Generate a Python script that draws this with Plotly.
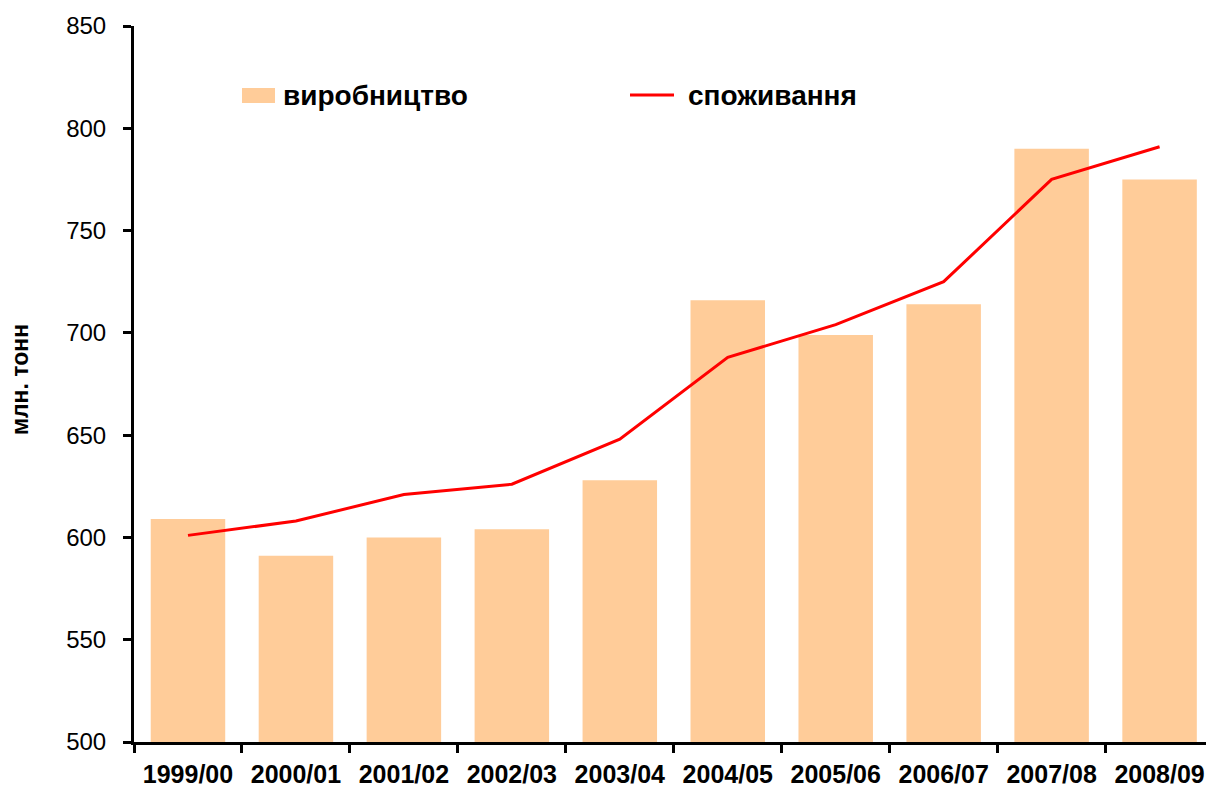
import plotly.graph_objects as go

seasons = ["1999/00", "2000/01", "2001/02", "2002/03", "2003/04",
           "2004/05", "2005/06", "2006/07", "2007/08", "2008/09"]
production = [609, 591, 600, 604, 628, 716, 699, 714, 790, 775]
consumption = [601, 608, 621, 626, 648, 688, 704, 725, 775, 791]

BAR_COLOR = "#FFCC99"
LINE_COLOR = "#FF0000"
FONT = "Liberation Sans, Arial, sans-serif"

# plot area in pixels: x 134..1206, y 26..742
L, T, W, H = 134, 26, 1072, 716


def px_x(p):
    return (p - L) / W


def px_y(p):
    return (T + H - p) / H


fig = go.Figure()
fig.add_trace(go.Bar(x=seasons, y=production, name="виробництво",
                     marker=dict(color=BAR_COLOR, line=dict(width=0))))
fig.add_trace(go.Scatter(x=seasons, y=consumption, name="споживання", mode="lines",
                         line=dict(color=LINE_COLOR, width=3)))

# legend drawn by hand, to get the wide swatches
fig.add_shape(type="rect", xref="paper", yref="paper",
              x0=px_x(242), x1=px_x(275), y0=px_y(103), y1=px_y(88),
              fillcolor=BAR_COLOR, line=dict(width=0))
fig.add_shape(type="line", xref="paper", yref="paper",
              x0=px_x(630), x1=px_x(674), y0=px_y(95), y1=px_y(95),
              line=dict(color=LINE_COLOR, width=3))
fig.add_annotation(text="<b>виробництво</b>", xref="paper", yref="paper",
                   x=px_x(281), y=px_y(96), xanchor="left", yanchor="middle",
                   showarrow=False, font=dict(size=28, color="black", family=FONT))
fig.add_annotation(text="<b>споживання</b>", xref="paper", yref="paper",
                   x=px_x(686), y=px_y(96), xanchor="left", yanchor="middle",
                   showarrow=False, font=dict(size=28, color="black", family=FONT))
# y axis title
fig.add_annotation(text="<b>млн. тонн</b>", xref="paper", yref="paper",
                   x=px_x(20), y=px_y(380), xanchor="center", yanchor="middle",
                   textangle=-90, showarrow=False,
                   font=dict(size=23, color="black", family=FONT))

fig.update_layout(
    width=1206, height=787,
    margin=dict(l=L, r=0, t=T, b=787 - T - H),
    plot_bgcolor="white", paper_bgcolor="white",
    showlegend=False,
    bargap=0.31,
    font=dict(family=FONT, color="black"),
)
fig.update_xaxes(
    type="category", range=[-0.5, 9.43],
    showline=True, linecolor="black", linewidth=3,
    ticks="outside", tickson="boundaries", ticklen=8, tickwidth=3, tickcolor="black",
    tickfont=dict(size=25, family=FONT),
    tickvals=seasons, ticktext=["<b>%s</b>" % s for s in seasons],
    ticklabelstandoff=8,
    showgrid=False,
)
fig.update_yaxes(
    range=[500, 850], dtick=50,
    showline=True, linecolor="black", linewidth=3,
    ticks="outside", ticklen=8, tickwidth=3, tickcolor="black",
    tickfont=dict(size=24, family=FONT),
    ticklabelstandoff=12,
    showgrid=False, zeroline=False,
)

fig.write_html("out.html", config={"displayModeBar": False},
               post_script="document.body.style.margin='0';")
